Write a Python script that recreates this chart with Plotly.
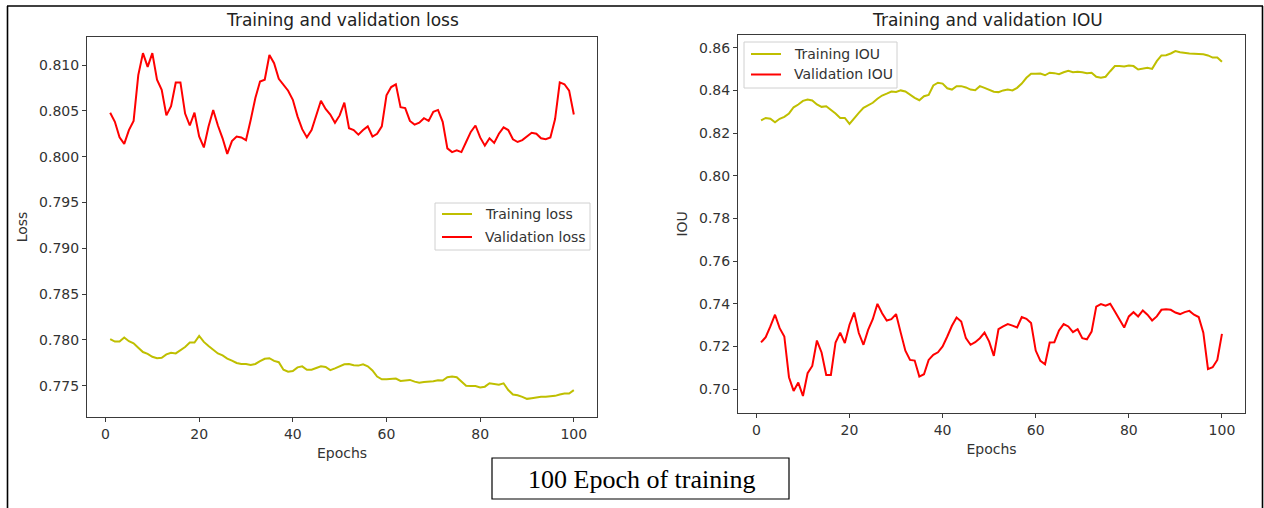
import plotly.graph_objects as go

W, H = 1264, 508

epochs = list(range(1, 101))

train_loss = [
    0.78007, 0.77981, 0.77981, 0.78026, 0.77985, 0.77963, 0.77915, 0.77867, 0.77848, 0.77815,
    0.77800, 0.77804, 0.77841, 0.77859, 0.77852, 0.77885, 0.77922, 0.77970, 0.77970, 0.78044,
    0.77978, 0.77933, 0.77889, 0.77852, 0.77830, 0.77796, 0.77774, 0.77748, 0.77737, 0.77737,
    0.77726, 0.77737, 0.77767, 0.77793, 0.77800, 0.77770, 0.77756, 0.77674, 0.77652, 0.77659,
    0.77700, 0.77711, 0.77674, 0.77674, 0.77693, 0.77711, 0.77704, 0.77670, 0.77689, 0.77711,
    0.77733, 0.77737, 0.77722, 0.77719, 0.77733, 0.77711, 0.77667, 0.77600, 0.77570, 0.77570,
    0.77570, 0.77578, 0.77552, 0.77556, 0.77563, 0.77544, 0.77533, 0.77541, 0.77541, 0.77548,
    0.77559, 0.77556, 0.77593, 0.77600, 0.77593, 0.77544, 0.77500, 0.77496, 0.77496, 0.77481,
    0.77489, 0.77526, 0.77519, 0.77511, 0.77526, 0.77452, 0.77404, 0.77396, 0.77378, 0.77356,
    0.77363, 0.77374, 0.77378, 0.77378, 0.77381, 0.77389, 0.77404, 0.77415, 0.77415, 0.77452,
]

val_loss = [
    0.8048, 0.8038, 0.8021, 0.8014, 0.8029, 0.8039, 0.8089, 0.8113, 0.8098, 0.8113,
    0.8084, 0.8073, 0.8045, 0.8055, 0.8081, 0.8081, 0.8047, 0.8034, 0.8048, 0.8022,
    0.8010, 0.8033, 0.8051, 0.8034, 0.8020, 0.8003, 0.8017, 0.8022, 0.8021, 0.8018,
    0.8040, 0.8064, 0.8082, 0.8084, 0.8111, 0.8102, 0.8085, 0.8078, 0.8072, 0.8062,
    0.8044, 0.8030, 0.8021, 0.8029, 0.8045, 0.8061, 0.8052, 0.8046, 0.8037, 0.8045,
    0.8059, 0.8031, 0.8029, 0.8024, 0.8029, 0.8033, 0.8022, 0.8025, 0.8033, 0.8067,
    0.8076, 0.8079, 0.8054, 0.8053, 0.8039, 0.8035, 0.8037, 0.8042, 0.8039, 0.8049,
    0.8051, 0.8038, 0.8009, 0.8005, 0.8007, 0.8005, 0.8016, 0.8027, 0.8034, 0.8021,
    0.8012, 0.8020, 0.8015, 0.8025, 0.8032, 0.8029, 0.8019, 0.8016, 0.8018, 0.8022,
    0.8026, 0.8025, 0.8020, 0.8019, 0.8021, 0.8041, 0.8081, 0.8079, 0.8072, 0.8046,
]

train_iou = [
    0.8260, 0.8271, 0.8267, 0.8251, 0.8267, 0.8276, 0.8292, 0.8321, 0.8334, 0.8351,
    0.8357, 0.8353, 0.8334, 0.8323, 0.8326, 0.8310, 0.8292, 0.8271, 0.8271, 0.8243,
    0.8271, 0.8295, 0.8318, 0.8331, 0.8342, 0.8361, 0.8376, 0.8385, 0.8395, 0.8393,
    0.8400, 0.8395, 0.8379, 0.8365, 0.8354, 0.8373, 0.8379, 0.8423, 0.8436, 0.8432,
    0.8410, 0.8404, 0.8420, 0.8420, 0.8414, 0.8404, 0.8401, 0.8420, 0.8412, 0.8404,
    0.8394, 0.8392, 0.8400, 0.8404, 0.8400, 0.8412, 0.8432, 0.8459, 0.8478, 0.8478,
    0.8479, 0.8471, 0.8483, 0.8481, 0.8476, 0.8485, 0.8492, 0.8485, 0.8487, 0.8485,
    0.8481, 0.8483, 0.8464, 0.8459, 0.8464, 0.8490, 0.8514, 0.8514, 0.8512, 0.8517,
    0.8514, 0.8498, 0.8503, 0.8506, 0.8501, 0.8537, 0.8564, 0.8565, 0.8573, 0.8584,
    0.8579, 0.8575, 0.8573, 0.8572, 0.8572, 0.8569, 0.8564, 0.8554, 0.8554, 0.8534,
]

val_iou = [
    0.7219, 0.7244, 0.7294, 0.7349, 0.7286, 0.7247, 0.7056, 0.6992, 0.7031, 0.6968,
    0.7075, 0.7109, 0.7228, 0.7172, 0.7067, 0.7067, 0.7219, 0.7265, 0.7216, 0.7302,
    0.7359, 0.7263, 0.7208, 0.7278, 0.7328, 0.7400, 0.7356, 0.7322, 0.7328, 0.7352,
    0.7265, 0.7180, 0.7137, 0.7134, 0.7059, 0.7070, 0.7137, 0.7161, 0.7173, 0.7200,
    0.7247, 0.7297, 0.7336, 0.7317, 0.7239, 0.7208, 0.7220, 0.7239, 0.7265, 0.7223,
    0.7156, 0.7281, 0.7294, 0.7305, 0.7298, 0.7289, 0.7338, 0.7330, 0.7310, 0.7181,
    0.7133, 0.7117, 0.7219, 0.7220, 0.7275, 0.7305, 0.7294, 0.7267, 0.7281, 0.7239,
    0.7234, 0.7270, 0.7387, 0.7399, 0.7391, 0.7400, 0.7364, 0.7325, 0.7289, 0.7341,
    0.7361, 0.7341, 0.7369, 0.7349, 0.7322, 0.7341, 0.7372, 0.7375, 0.7372, 0.7359,
    0.7352, 0.7361, 0.7367, 0.7349, 0.7338, 0.7265, 0.7094, 0.7103, 0.7137, 0.7259,
]

loss_ticks = [0.775, 0.780, 0.785, 0.790, 0.795, 0.800, 0.805, 0.810]
iou_ticks = [0.70, 0.72, 0.74, 0.76, 0.78, 0.80, 0.82, 0.84, 0.86]
x_ticks = [0, 20, 40, 60, 80, 100]

OLIVE = "#bfbf00"
RED = "#ff0000"
AX = "#3a3a3a"
TXT = "#333333"
FONT = "DejaVu Sans"


def px(x):
    return x / W


def py(y):
    return 1 - y / H


fig = go.Figure()

fig.add_trace(go.Scatter(x=epochs, y=train_loss, mode="lines", name="Training loss",
                         line=dict(color=OLIVE, width=2), xaxis="x", yaxis="y"))
fig.add_trace(go.Scatter(x=epochs, y=val_loss, mode="lines", name="Validation loss",
                         line=dict(color=RED, width=2), xaxis="x", yaxis="y"))
fig.add_trace(go.Scatter(x=epochs, y=train_iou, mode="lines", name="Training IOU",
                         line=dict(color=OLIVE, width=2), xaxis="x2", yaxis="y2"))
fig.add_trace(go.Scatter(x=epochs, y=val_iou, mode="lines", name="Validation IOU",
                         line=dict(color=RED, width=2), xaxis="x2", yaxis="y2"))

axis_common = dict(showline=True, mirror=True, linecolor=AX, linewidth=1, showgrid=False,
                   zeroline=False, ticks="outside", ticklen=4, tickcolor=AX, tickwidth=1,
                   tickfont=dict(family=FONT, size=14, color=TXT))
title_font = dict(family=FONT, size=14, color=TXT)

fig.update_layout(
    width=W, height=H, autosize=False,
    margin=dict(l=0, r=0, t=0, b=0),
    paper_bgcolor="white", plot_bgcolor="white",
    showlegend=False,
    xaxis=dict(domain=[px(87), px(597)], anchor="y", range=[-3.95, 104.95],
               tickvals=x_ticks, ticktext=[str(t) for t in x_ticks],
               title=dict(text="Epochs", font=title_font, standoff=7),
               **axis_common),
    yaxis=dict(domain=[py(417), py(37)], anchor="x", range=[0.77158, 0.81306],
               tickvals=loss_ticks, ticktext=[f"{t:.3f}" for t in loss_ticks],
               title=dict(text="Loss", font=title_font, standoff=8),
               **axis_common),
    xaxis2=dict(domain=[px(738), px(1245)], anchor="y2", range=[-3.95, 104.95],
                tickvals=x_ticks, ticktext=[str(t) for t in x_ticks],
                title=dict(text="Epochs", font=title_font, standoff=7),
                **axis_common),
    yaxis2=dict(domain=[py(413.3), py(34.5)], anchor="x2", range=[0.6887, 0.8662],
                tickvals=iou_ticks, ticktext=[f"{t:.2f}" for t in iou_ticks],
                title=dict(text="IOU", font=title_font, standoff=8),
                **axis_common),
)


def add_text(text, x, y, size, family=FONT, color="#222222", xanchor="center"):
    fig.add_annotation(text=text, x=px(x), y=py(y), xref="paper", yref="paper",
                       xanchor=xanchor, yanchor="middle", showarrow=False,
                       font=dict(family=family, size=size, color=color))


# panel titles
add_text("Training and validation loss", 342, 20, 17)
add_text("Training and validation IOU", 988, 20, 17)


def add_legend(x0, y0, x1, y1, entries):
    fig.add_shape(type="rect", xref="paper", yref="paper", x0=px(x0), x1=px(x1), y0=py(y1), y1=py(y0),
                  line=dict(color="#d0d0d0", width=1), fillcolor="rgba(255,255,255,0.85)")
    for label, color, yy in entries:
        fig.add_shape(type="line", xref="paper", yref="paper", x0=px(x0 + 7), x1=px(x0 + 37),
                      y0=py(yy), y1=py(yy), line=dict(color=color, width=2))
        add_text(label, x0 + 48, yy, 14, color=TXT, xanchor="left")


add_legend(435, 203, 590, 250, [("Training loss", OLIVE, 214), ("Validation loss", RED, 237)])
add_legend(744, 42, 897, 88, [("Training IOU", OLIVE, 54), ("Validation IOU", RED, 74.5)])

# caption box
fig.add_shape(type="rect", xref="paper", yref="paper", x0=px(492), x1=px(789), y0=py(499), y1=py(458),
              line=dict(color="black", width=1.2), fillcolor="white")
add_text("100 Epoch of training", 641, 479, 26, family="Liberation Serif", color="black")

# outer frame
for (x0, y0, x1, y1) in [(7, 6, 1263, 6), (7.5, 6, 7.5, 508), (1262.5, 6, 1262.5, 508)]:
    fig.add_shape(type="line", xref="paper", yref="paper", x0=px(x0), y0=py(y0), x1=px(x1), y1=py(y1),
                  line=dict(color="black", width=1.6))

fig.write_html("out.html")
